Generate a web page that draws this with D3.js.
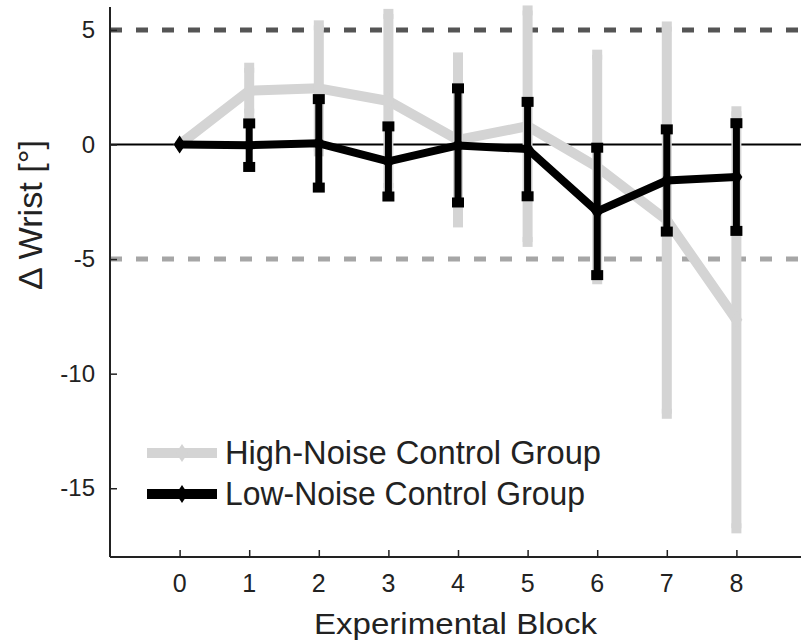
<!DOCTYPE html>
<html>
<head>
  <meta charset="utf-8">
  <title>wrist</title>
  <style>
    body {margin:0; background:#fff;}
    svg text {font-family: "Liberation Sans", Arial, sans-serif; fill:#222;}
  </style>
</head>
<body>
<script src="https://cdn.jsdelivr.net/npm/d3@7"></script>
<script>
  var blocks = [0, 1, 2, 3, 4, 5, 6, 7, 8];

  // high-noise group: mean and error half-width
  var highMean = [0, 2.35, 2.45, 1.9, 0.2, 0.8, -0.98, -3.3, -7.65];
  var highErr  = [0, 1.0, 2.75, 3.8, 3.6, 5.05, 4.9, 8.45, 9.1];

  // low-noise group
  var lowMean = [0, -0.03, 0.05, -0.74, -0.04, -0.2, -2.92, -1.57, -1.42];
  var lowErr  = [0, 0.95, 1.93, 1.53, 2.49, 2.06, 2.78, 2.23, 2.35];

  var yTicks = [-15, -10, -5, 0, 5];
  var refLines = [5, -5];

  var width = 801, height = 643;
  var pLeft = 110, pRight = 806, pTop = 7, pBottom = 557;

  var x = d3.scaleLinear().domain([-1, 9]).range([pLeft, pRight]);
  var y = d3.scaleLinear().domain([-18, 6]).range([pBottom, pTop]);

  var svg = d3.select('body').append('svg')
    .attr('width', width)
    .attr('height', height);

  // reference lines
  svg.append('g').selectAll('line')
    .data(refLines)
    .join('line')
    .attr('x1', pLeft).attr('x2', width)
    .attr('y1', function(d){ return y(d) })
    .attr('y2', function(d){ return y(d) })
    .attr('stroke', function(d){ return d > 0 ? '#555' : '#a6a6a6' })
    .attr('stroke-width', 5)
    .attr('stroke-dasharray', '12,14');

  svg.append('line')
    .attr('x1', pLeft).attr('x2', width)
    .attr('y1', y(0)).attr('y2', y(0))
    .attr('stroke', '#000')
    .attr('stroke-width', 2);

  var diamond = 'M0,-9L6,0L0,9L-6,0Z';

  function series(mean, err, color, lw, bw, capW, capH) {
    var g = svg.append('g');
    var pts = blocks.map(function(b, i){ return {b: b, m: mean[i], e: err[i]} });

    g.append('path')
      .datum(pts)
      .attr('fill', 'none')
      .attr('stroke', color)
      .attr('stroke-width', lw)
      .attr('stroke-linejoin', 'round')
      .attr('d', d3.line().x(function(d){ return x(d.b) }).y(function(d){ return y(d.m) }));

    var eb = pts.filter(function(d){ return d.e > 0 });
    g.selectAll('line.bar')
      .data(eb)
      .join('line')
      .attr('class', 'bar')
      .attr('x1', function(d){ return x(d.b) })
      .attr('x2', function(d){ return x(d.b) })
      .attr('y1', function(d){ return y(d.m + d.e) })
      .attr('y2', function(d){ return y(d.m - d.e) })
      .attr('stroke', color)
      .attr('stroke-width', bw);

    var caps = [];
    eb.forEach(function(d){ caps.push({b: d.b, v: d.m + d.e}, {b: d.b, v: d.m - d.e}) });
    g.selectAll('rect.cap')
      .data(caps)
      .join('rect')
      .attr('class', 'cap')
      .attr('x', function(d){ return x(d.b) - capW / 2 })
      .attr('y', function(d){ return y(d.v) - capH / 2 })
      .attr('width', capW)
      .attr('height', capH)
      .attr('fill', color);

    g.selectAll('path.mk')
      .data(pts)
      .join('path')
      .attr('class', 'mk')
      .attr('transform', function(d){ return 'translate(' + x(d.b) + ',' + y(d.m) + ')' })
      .attr('d', diamond)
      .attr('fill', color);
  }

  series(highMean, highErr, '#d4d4d4', 10, 10, 10, 10);
  series(lowMean, lowErr, '#000', 8, 7, 12, 10);

  // axes (ticks inward)
  var yAxis = d3.axisRight(y).tickValues(yTicks).tickSize(7).tickFormat('');
  svg.append('g')
    .attr('transform', 'translate(' + pLeft + ',0)')
    .call(yAxis)
    .call(function(g){
      g.select('.domain').attr('d', 'M0,' + pTop + 'V' + pBottom).attr('stroke', '#222').attr('stroke-width', 2);
      g.selectAll('.tick line').attr('stroke', '#222').attr('stroke-width', 1.5);
    });

  svg.append('g').selectAll('text')
    .data(yTicks)
    .join('text')
    .attr('x', 95)
    .attr('y', function(d){ return y(d) + 8 })
    .attr('text-anchor', 'end')
    .attr('font-size', 24)
    .text(function(d){ return d });

  var xAxis = d3.axisTop(x).tickValues(blocks).tickSize(7).tickFormat('');
  svg.append('g')
    .attr('transform', 'translate(0,' + pBottom + ')')
    .call(xAxis)
    .call(function(g){
      g.select('.domain').attr('d', 'M' + pLeft + ',0H' + width).attr('stroke', '#222').attr('stroke-width', 2);
      g.selectAll('.tick line').attr('stroke', '#222').attr('stroke-width', 1.5);
    });

  svg.append('g').selectAll('text')
    .data(blocks)
    .join('text')
    .attr('x', function(d){ return x(d) })
    .attr('y', 592)
    .attr('text-anchor', 'middle')
    .attr('font-size', 25)
    .text(function(d){ return d });

  svg.append('text')
    .attr('x', 314)
    .attr('y', 634)
    .attr('font-size', 30)
    .attr('textLength', 283)
    .attr('lengthAdjust', 'spacingAndGlyphs')
    .text('Experimental Block');

  svg.append('text')
    .attr('transform', 'translate(42,215) rotate(-90)')
    .attr('text-anchor', 'middle')
    .attr('font-size', 33)
    .attr('textLength', 150)
    .attr('lengthAdjust', 'spacingAndGlyphs')
    .text('\u0394 Wrist [\u00b0]');

  // legend
  var legend = [
    {name: 'High-Noise Control Group', color: '#d4d4d4'},
    {name: 'Low-Noise Control Group', color: '#000'}
  ];
  var lg = svg.append('g').selectAll('g')
    .data(legend)
    .join('g')
    .attr('transform', function(d, i){ return 'translate(147,' + (453 + i * 41) + ')' });
  lg.append('line')
    .attr('x1', 0).attr('x2', 70)
    .attr('stroke', function(d){ return d.color })
    .attr('stroke-width', 10);
  lg.append('path')
    .attr('transform', 'translate(35,0)')
    .attr('d', diamond)
    .attr('fill', function(d){ return d.color });
  lg.append('text')
    .attr('x', 78)
    .attr('y', 11)
    .attr('font-size', 33)
    .attr('textLength', function(d, i){ return i ? 360 : 376 })
    .attr('lengthAdjust', 'spacingAndGlyphs')
    .text(function(d){ return d.name });
</script>
</body>
</html>
